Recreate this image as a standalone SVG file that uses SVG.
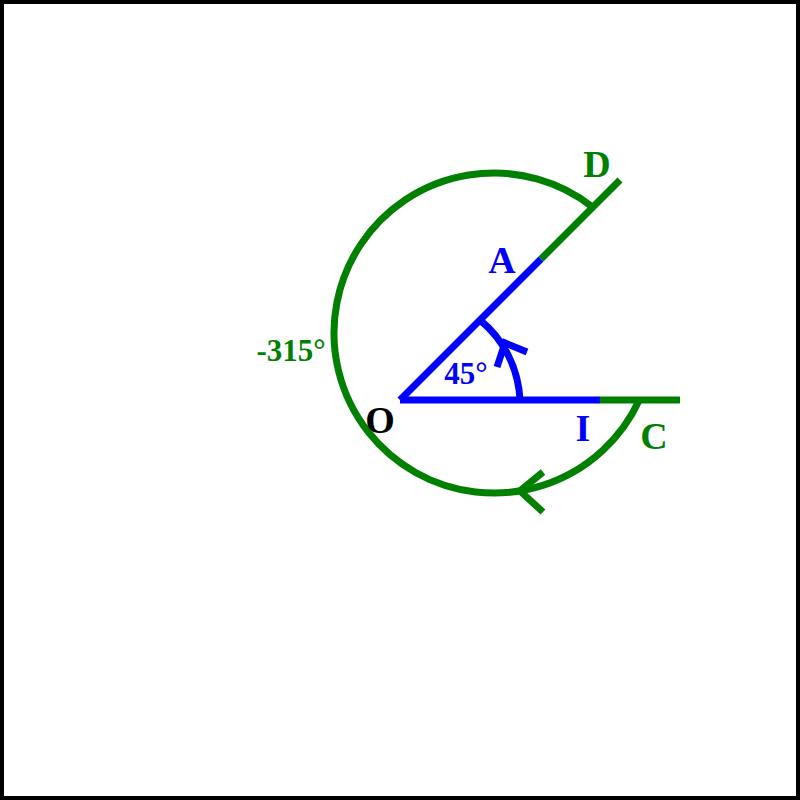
<svg xmlns="http://www.w3.org/2000/svg" width="800" height="800" viewBox="0 0 800 800">
<style>
.b{stroke:#0000ff;stroke-width:7;fill:none}
.g{stroke:#008000;stroke-width:7;fill:none}
text{font-family:"Liberation Serif","Times New Roman",serif;font-weight:bold;text-anchor:middle}
.tb{fill:#0000ff;font-size:38px}
.tg{fill:#008000;font-size:38px}
.tk{fill:#000;font-size:38px}
.sg{fill:#008000;font-size:31px}
.sb{fill:#0000ff;font-size:31px}
</style>
<rect x="2" y="2" width="796" height="796" fill="#fff" stroke="#000" stroke-width="4"/>
<g id="connectors">
<path id="ray-OD" class="g" d="M541 259 L620 180"/>
<path id="ray-OC" class="g" d="M600 400 L680 400"/>
<path id="arc-315" class="g" d="M592.8 207.2 A160 160 0 1 0 639.3 400"/>
<path id="arrow-315" class="g" d="M543 472 L520 491 L543 512"/>
<path id="ray-OA" class="b" d="M400 400 L541 259"/>
<path id="ray-OI" class="b" d="M400 400 L600 400"/>
<path id="arc-45" class="b" d="M480 320 A110 110 0 0 1 520 400"/>
<path id="arrow-45" class="b" d="M497 367 L505 343 L527 352"/>
</g>
<g id="O"><text class="tk" x="380" y="433">O</text></g>
<g id="A"><text class="tb" x="502" y="273">A</text></g>
<g id="I"><text class="tb" x="583" y="441">I</text></g>
<g id="D"><text class="tg" x="597" y="177">D</text></g>
<g id="C"><text class="tg" x="654" y="449">C</text></g>
<g id="angle-45"><text class="sb" x="466" y="384">45°</text></g>
<g id="angle-315"><text class="sg" x="291" y="361">-315°</text></g>
</svg>
